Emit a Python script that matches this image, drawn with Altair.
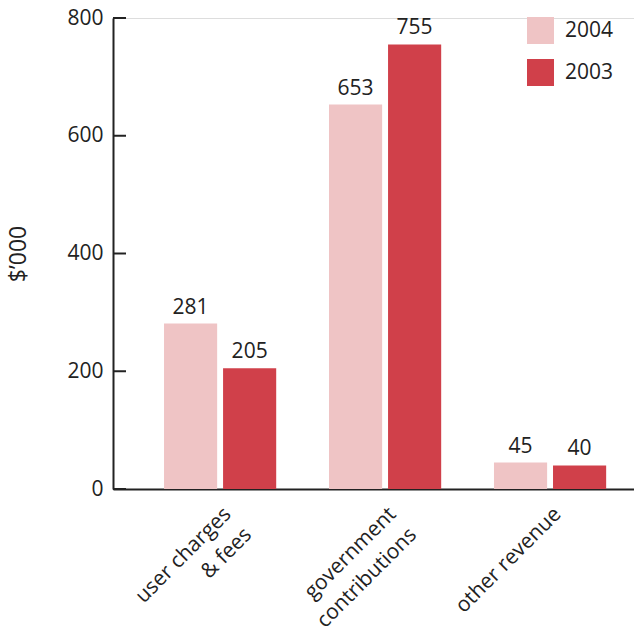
import altair as alt
import pandas as pd

categories = ["user charges & fees", "government contributions", "other revenue"]
years = ["2004", "2003"]
values_2004 = [281, 653, 45]
values_2003 = [205, 755, 40]
y_ticks = [0, 200, 400, 600, 800]
colors = ["#efc4c5", "#d0404a"]

rows = []
for c, v4, v3 in zip(categories, values_2004, values_2003):
    rows.append({"category": c, "year": "2004", "value": v4})
    rows.append({"category": c, "year": "2003", "value": v3})
df = pd.DataFrame(rows)
ticks_df = pd.DataFrame({"tick": y_ticks})

FONT = "Open Sans"
INK = "#222222"

label_expr = ("datum.label == 'user charges & fees' ? ['user charges', '& fees'] : "
              "datum.label == 'government contributions' ? ['government', 'contributions'] : datum.label")

x = alt.X("category:N", sort=categories, title=None,
          scale=alt.Scale(paddingInner=0.32, paddingOuter=0.239, align=0.647),
          axis=alt.Axis(labelAngle=315, labelAlign="right", labelBaseline="top",
                        labelPadding=14, labelFontSize=21, labelColor=INK, labelFont=FONT,
                        labelLineHeight=29, ticks=False, domainColor=INK, domainWidth=2,
                        labelExpr=label_expr))
xoff = alt.XOffset("year:N", sort=years, scale=alt.Scale(paddingInner=0.1, paddingOuter=0))
y = alt.Y("value:Q", scale=alt.Scale(domain=[0, 800], nice=False),
          axis=alt.Axis(values=y_ticks, title="$’000", ticks=False, grid=False,
                        labelFontSize=21, labelColor=INK, labelFont=FONT, labelPadding=10,
                        titleFontSize=23, titleColor=INK, titleFont=FONT, titleFontWeight="normal",
                        titlePadding=36, domainColor=INK, domainWidth=2))
color = alt.Color("year:N", sort=years, scale=alt.Scale(domain=years, range=colors),
                  legend=alt.Legend(orient="none", legendX=414, legendY=-1, title=None,
                                    symbolType="square", symbolSize=729, symbolStrokeWidth=0,
                                    symbolOpacity=1, labelFontSize=21, labelFont=FONT,
                                    labelColor=INK, labelOffset=11, rowPadding=15))

base = alt.Chart(df)
bars = base.mark_bar().encode(x=x, xOffset=xoff, y=y, color=color)
text = base.mark_text(fontSize=21, font=FONT, color=INK, baseline="alphabetic", dy=-10).encode(
    x=alt.X("category:N", sort=categories), xOffset=alt.XOffset("year:N", sort=years),
    y="value:Q", text="value:Q")
tick_marks = alt.Chart(ticks_df).mark_rule(color=INK, strokeWidth=2).encode(
    y="tick:Q", x=alt.value(0), x2=alt.value(13))

chart = alt.layer(bars, text, tick_marks).properties(
    width=521, height=471,
    autosize=alt.AutoSizeParams(type="none"),
    padding={"left": 113, "top": 18, "right": 0, "bottom": 151},
).configure_view(stroke=None).configure(background="white")

chart.save("out.html", embed_options={"renderer": "svg", "actions": False})
